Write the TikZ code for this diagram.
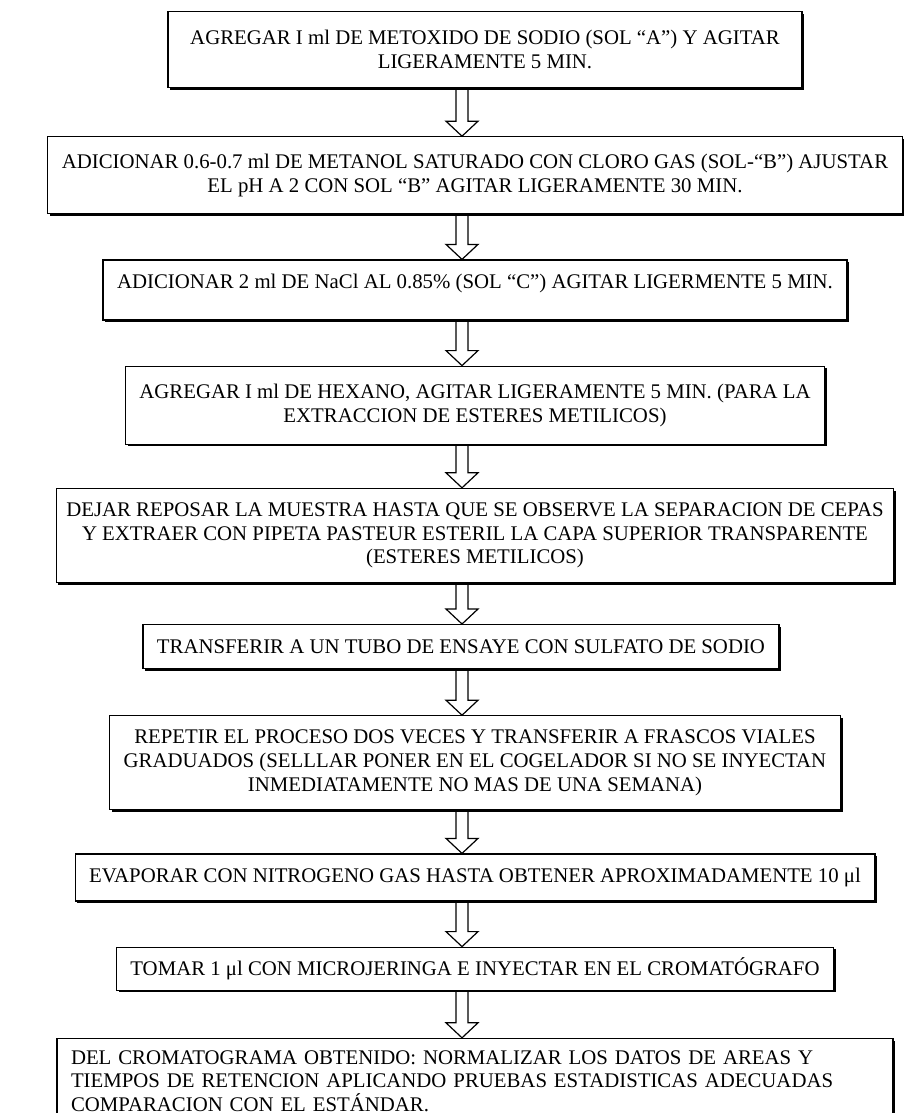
\documentclass[tikz,border=0pt]{standalone}
\usepackage{fontspec}
\setmainfont{Liberation Serif}
\usetikzlibrary{positioning,calc,shadows}

\begin{document}
\begin{tikzpicture}[
  node distance=22.5pt,
  every node/.style={font=\fontsize{10.4pt}{11.8pt}\selectfont},
  caja/.style={draw, rectangle, fill=white, line width=0.6pt, inner xsep=7pt,
    align=center,
    drop shadow={shadow xshift=1.1pt, shadow yshift=-1.1pt, opacity=1, fill=black}},
  flecha/.style={line width=0.6pt, to path={
    ($(\tikztostart)+(-3pt,0)$) -- ($(\tikztotarget)+(-3pt,7.5pt)$)
    -- ($(\tikztotarget)+(-8pt,7.5pt)$) -- (\tikztotarget)
    -- ($(\tikztotarget)+(8pt,7.5pt)$) -- ($(\tikztotarget)+(3pt,7.5pt)$)
    -- ($(\tikztostart)+(3pt,0)$)}}
]
\useasboundingbox (0,0) rectangle (453.5pt,-556.5pt);
\coordinate (eje) at (231pt,0);

\node (metoxido) [caja, anchor=north, minimum height=38pt, minimum width=317pt]
  at (242.5pt,-5.5pt)
  {AGREGAR I ml DE METOXIDO DE SODIO (SOL “A”) Y AGITAR \\ LIGERAMENTE 5 MIN.};
\node (metanol) [caja, below=24pt of metoxido, xshift=-5pt, minimum height=38.5pt]
  {ADICIONAR 0.6-0.7 ml DE METANOL SATURADO CON CLORO GAS (SOL-“B”) AJUSTAR \\
   EL pH A 2 CON SOL “B” AGITAR LIGERAMENTE 30 MIN.};
\node (nacl) [caja, below=of metanol, minimum height=30pt, text depth=9pt]
  {ADICIONAR 2 ml DE NaCl AL 0.85\% (SOL “C”) AGITAR LIGERMENTE 5 MIN.};
\node (hexano) [caja, below=of nacl, minimum height=39pt]
  {AGREGAR I ml DE HEXANO, AGITAR LIGERAMENTE 5 MIN. (PARA LA \\
   EXTRACCION DE ESTERES METILICOS)};
\node (reposo) [caja, below=21.5pt of hexano, minimum height=47pt, inner xsep=5pt]
  {DEJAR REPOSAR LA MUESTRA HASTA QUE SE OBSERVE LA SEPARACION DE CEPAS \\
   Y EXTRAER CON PIPETA PASTEUR ESTERIL LA CAPA SUPERIOR TRANSPARENTE \\
   (ESTERES METILICOS)};
\node (transferir) [caja, below=20.5pt of reposo, xshift=-7pt, minimum height=22pt]
  {TRANSFERIR A UN TUBO DE ENSAYE CON SULFATO DE SODIO};
\node (repetir) [caja, below=23pt of transferir, xshift=7pt, minimum height=47pt]
  {REPETIR EL PROCESO DOS VECES Y TRANSFERIR A FRASCOS VIALES \\
   GRADUADOS (SELLLAR PONER EN EL COGELADOR SI NO SE INYECTAN \\
   INMEDIATAMENTE NO MAS DE UNA SEMANA)};
\node (evaporar) [caja, below=21.5pt of repetir, minimum height=23.5pt]
  {EVAPORAR CON NITROGENO GAS HASTA OBTENER APROXIMADAMENTE 10 μl};
\node (inyectar) [caja, below=of evaporar, minimum height=21.5pt]
  {TOMAR 1 μl CON MICROJERINGA E INYECTAR EN EL CROMATÓGRAFO};
\node (normalizar) [caja, below=23.5pt of inyectar, align=left, text width=404pt,
  inner ysep=6pt, text depth=25pt]
  {DEL CROMATOGRAMA OBTENIDO: NORMALIZAR LOS DATOS DE AREAS Y \\
   TIEMPOS DE RETENCION APLICANDO PRUEBAS ESTADISTICAS ADECUADAS \\
   COMPARACION CON EL ESTÁNDAR.};

\draw[flecha] (metoxido.south -| eje)   to (metanol.north -| eje);
\draw[flecha] (metanol.south -| eje)    to (nacl.north -| eje);
\draw[flecha] (nacl.south -| eje)       to (hexano.north -| eje);
\draw[flecha] (hexano.south -| eje)     to (reposo.north -| eje);
\draw[flecha] (reposo.south -| eje)     to (transferir.north -| eje);
\draw[flecha] (transferir.south -| eje) to (repetir.north -| eje);
\draw[flecha] (repetir.south -| eje)    to (evaporar.north -| eje);
\draw[flecha] (evaporar.south -| eje)   to (inyectar.north -| eje);
\draw[flecha] (inyectar.south -| eje)   to (normalizar.north -| eje);
\end{tikzpicture}
\end{document}
